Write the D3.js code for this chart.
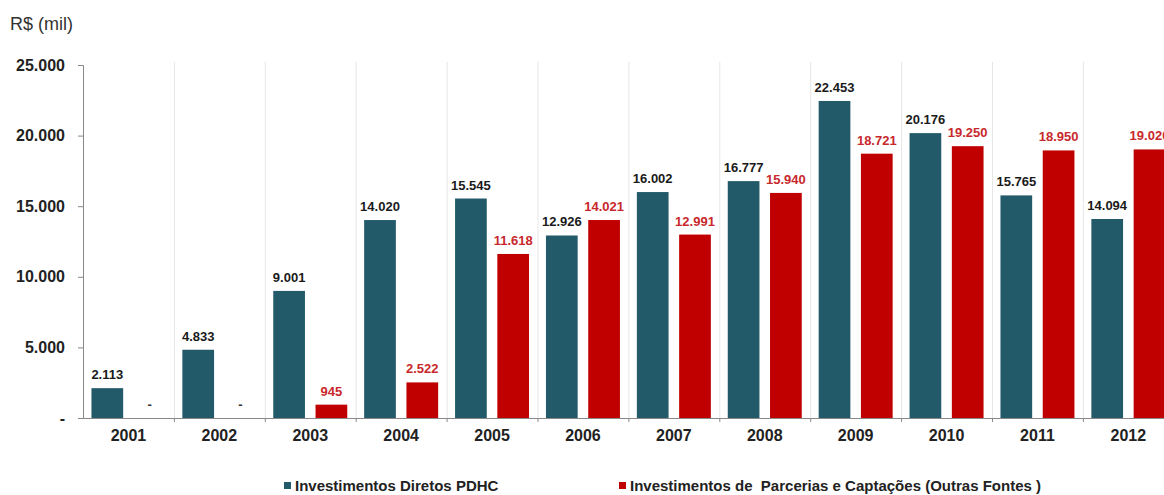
<!DOCTYPE html>
<html>
<head>
<meta charset="utf-8">
<script src="https://cdn.jsdelivr.net/npm/d3@7"></script>
<style>
  body { margin: 0; background: #fff; }
  svg { display: block; font-family: "Liberation Sans", Arial, sans-serif; }
</style>
</head>
<body>
<svg id="chart" width="1164" height="495"></svg>
<script>
// data
var years = ["2001", "2002", "2003", "2004", "2005", "2006", "2007", "2008", "2009", "2010", "2011", "2012"];
var diretos = [2113, 4833, 9001, 14020, 15545, 12926, 16002, 16777, 22453, 20176, 15765, 14094];
var parcerias = [0, 0, 945, 2522, 11618, 14021, 12991, 15940, 18721, 19250, 18950, 19020];
var yTicks = [0, 5000, 10000, 15000, 20000, 25000];
var seriesNames = ["Investimentos Diretos PDHC", "Investimentos de  Parcerias e Captações (Outras Fontes )"];

var colors = ["#235a6a", "#c00000"];
var labelColors = ["#1a1a1a", "#c8282c"];

var br = d3.formatLocale({ decimal: ",", thousands: ".", grouping: [3], currency: ["R$", ""] });
var fmt = function(v) { return v === 0 ? "-" : br.format(",")(v); };

var svg = d3.select("#chart");
var margin = { left: 83, top: 65 };
var bandW = 90.9;
var plotH = 353;

var x0 = d3.scaleBand().domain(years).range([margin.left, margin.left + bandW * years.length]).padding(0);
var x1 = d3.scaleBand().domain([0, 1]).range([0, x0.bandwidth()]).paddingInner(0.25).paddingOuter(0.2);
var y = d3.scaleLinear().domain([0, 25000]).range([margin.top + plotH, margin.top]);

var rows = years.map(function(yr, i) { return { year: yr, values: [diretos[i], parcerias[i]] }; });

// vertical separators
svg.append("g").selectAll("line")
  .data(years.slice(1))
  .enter().append("line")
  .attr("x1", function(d) { return x0(d) + 0.5; })
  .attr("x2", function(d) { return x0(d) + 0.5; })
  .attr("y1", y(25000) - 3)
  .attr("y2", y(0))
  .attr("stroke", "#e6e6e6")
  .attr("stroke-width", 1);

// bars
var groups = svg.append("g").selectAll("g")
  .data(rows)
  .enter().append("g")
  .attr("transform", function(d) { return "translate(" + x0(d.year) + ",0)"; });

groups.selectAll("rect")
  .data(function(d) { return d.values.map(function(v, k) { return { k: k, v: v }; }); })
  .enter().append("rect")
  .attr("x", function(d) { return x1(d.k); })
  .attr("width", x1.bandwidth())
  .attr("y", function(d) { return y(d.v); })
  .attr("height", function(d) { return y(0) - y(d.v); })
  .attr("fill", function(d) { return colors[d.k]; });

groups.selectAll("text")
  .data(function(d) { return d.values.map(function(v, k) { return { k: k, v: v }; }); })
  .enter().append("text")
  .attr("x", function(d) { return x1(d.k) + x1.bandwidth() / 2; })
  .attr("y", function(d) { return d.v === 0 ? y(0) - 9 : y(d.v) - 9; })
  .attr("text-anchor", "middle")
  .attr("font-size", 13)
  .attr("font-weight", "bold")
  .attr("fill", function(d) { return d.v === 0 ? "#333" : labelColors[d.k]; })
  .text(function(d) { return fmt(d.v); });

// y axis
var yAxis = svg.append("g")
  .attr("transform", "translate(" + margin.left + ",0)")
  .call(d3.axisLeft(y).tickValues(yTicks).tickSize(5).tickPadding(13).tickFormat(fmt));
yAxis.select(".domain").attr("stroke", "#888");
yAxis.selectAll(".tick line").attr("stroke", "#888");
yAxis.selectAll(".tick text")
  .attr("font-family", "Liberation Sans, Arial, sans-serif")
  .attr("font-size", 16)
  .attr("font-weight", "bold")
  .attr("fill", "#222");

// x axis
var xAxis = svg.append("g")
  .attr("transform", "translate(0," + y(0) + ")")
  .call(d3.axisBottom(x0).tickSize(0).tickPadding(12));
xAxis.select(".domain").attr("stroke", "#888");
xAxis.selectAll(".tick text")
  .attr("font-family", "Liberation Sans, Arial, sans-serif")
  .attr("font-size", 16)
  .attr("font-weight", "bold")
  .attr("fill", "#222");

// small ticks at band edges
svg.append("g").selectAll("line")
  .data(years.slice(1))
  .enter().append("line")
  .attr("x1", function(d) { return x0(d) + 0.5; })
  .attr("x2", function(d) { return x0(d) + 0.5; })
  .attr("y1", y(0))
  .attr("y2", y(0) + 4)
  .attr("stroke", "#888");

// unit label
svg.append("text")
  .attr("x", 10)
  .attr("y", 30)
  .attr("font-size", 18)
  .attr("fill", "#333")
  .text("R$ (mil)");

// legend
var legendX = [284, 619];
var legend = svg.append("g").selectAll("g")
  .data(seriesNames)
  .enter().append("g")
  .attr("transform", function(d, i) { return "translate(" + legendX[i] + ",482)"; });
legend.append("rect")
  .attr("width", 7).attr("height", 7)
  .attr("fill", function(d, i) { return colors[i]; });
legend.append("text")
  .attr("x", 11)
  .attr("y", 9)
  .attr("font-size", 15)
  .attr("font-weight", "bold")
  .attr("fill", "#222")
  .attr("xml:space", "preserve")
  .style("white-space", "pre")
  .text(function(d) { return d; });
</script>
</body>
</html>
